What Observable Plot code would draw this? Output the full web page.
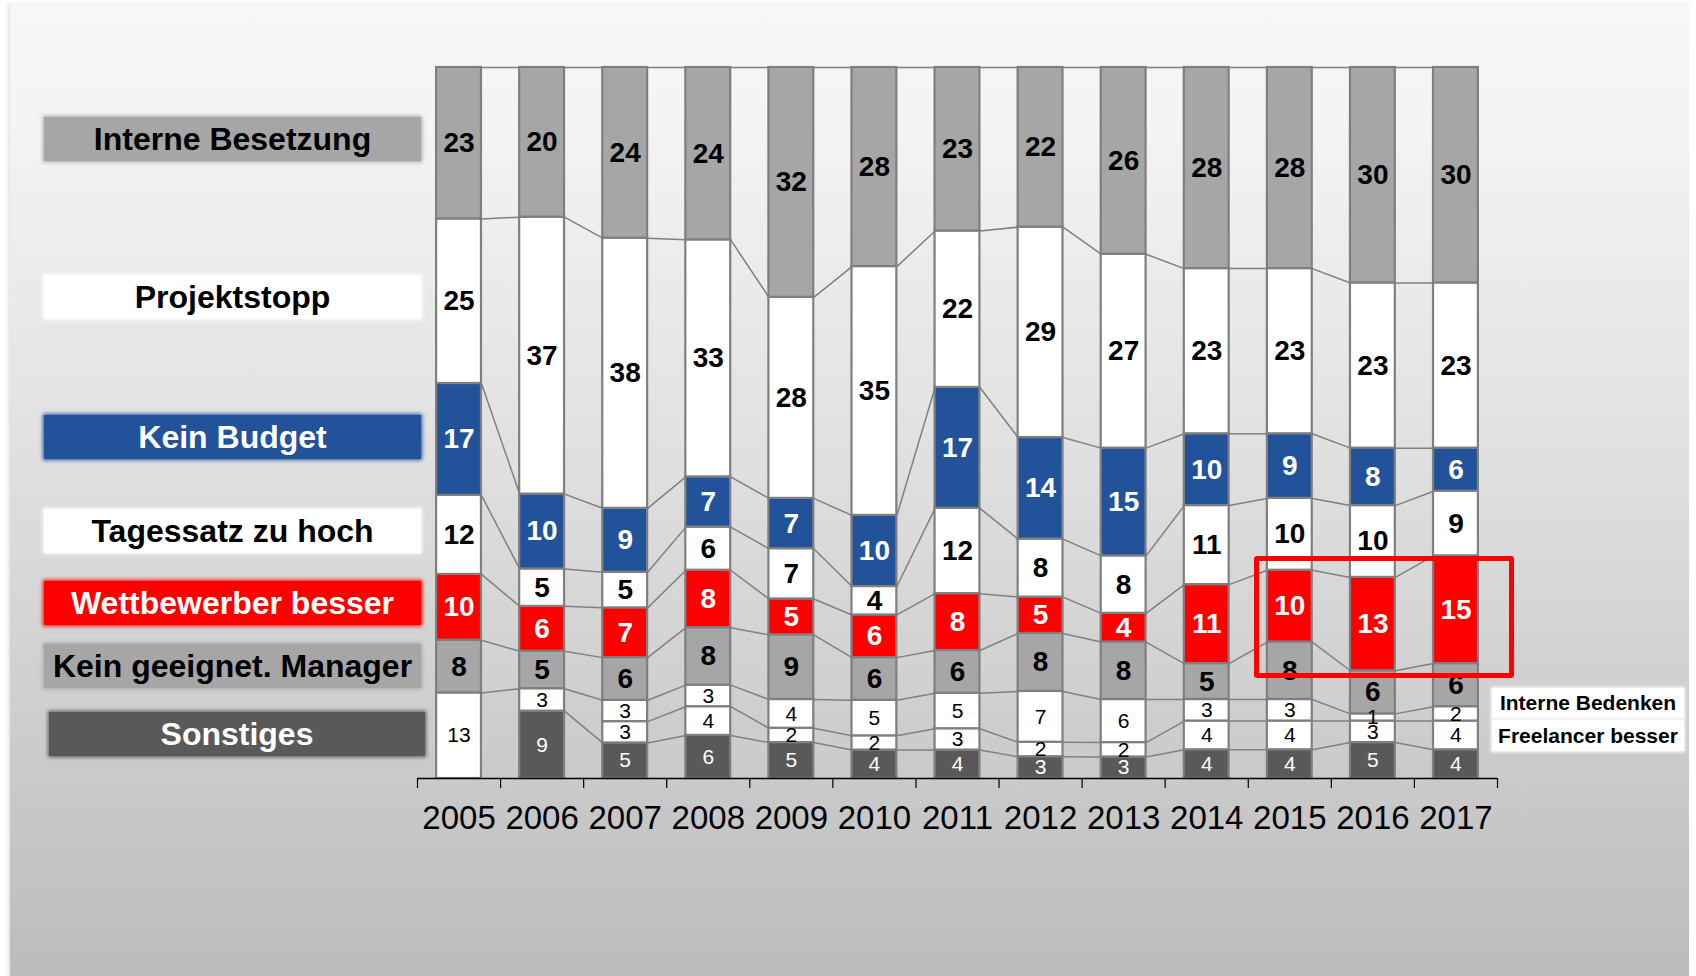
<!DOCTYPE html>
<html>
<head>
<meta charset="utf-8">
<script src="https://cdn.jsdelivr.net/npm/d3@7"></script>
<script src="https://cdn.jsdelivr.net/npm/@observablehq/plot@0.6"></script>
<style>
  html, body { margin: 0; padding: 0; background: #ffffff; overflow: hidden; }
  #page { position: relative; width: 1696px; height: 976px; font-family: 'Liberation Sans', Arial, sans-serif; }
  #panel { position: absolute; left: 10px; top: 4px; width: 1679px; height: 972px;
    background: linear-gradient(#f7f7f7 0%, #f4f4f4 12%, #e1e1e1 45%, #bcbcbc 100%);
    box-shadow: -2px 0 4px rgba(0,0,0,0.12); }
  #chart { position: absolute; left: 0; top: 0; }
  .lg { position: absolute; display: flex; align-items: center; justify-content: center;
    font-weight: bold; white-space: nowrap; }
  .big { font-size: 32px; height: 44px; }
  .small { font-size: 21px; }
  #hl { position: absolute; left: 1254px; top: 556px; width: 260px; height: 122px;
    border: 5px solid #ff0000; border-radius: 3px; box-sizing: border-box; }
</style>
</head>
<body>
<div id="page">
  <div id="panel"></div>
  <div id="chart"></div>
  <div id="legend"></div>
  <div id="hl"></div>
</div>
<script>
// ---- Data ----
const years = [2005, 2006, 2007, 2008, 2009, 2010, 2011, 2012, 2013, 2014, 2015, 2016, 2017];

// Stack order from bottom to top
const categories = ["Sonstiges", "Freelancer besser", "Interne Bedenken", "Kein geeignet. Manager",
  "Wettbewerber besser", "Tagessatz zu hoch", "Kein Budget", "Projektstopp", "Interne Besetzung"];

const sonstiges        = [null, 9, 5, 6, 5, 4, 4, 3, 3, 4, 4, 5, 4];
const freelancerBesser = [null, null, 3, 4, 2, 2, 3, 2, 2, 4, 4, 3, 4];
const interneBedenken  = [13, 3, 3, 3, 4, 5, 5, 7, 6, 3, 3, 1, 2];
const keinManager      = [8, 5, 6, 8, 9, 6, 6, 8, 8, 5, 8, 6, 6];
const wettbewerber     = [10, 6, 7, 8, 5, 6, 8, 5, 4, 11, 10, 13, 15];
const tagessatz        = [12, 5, 5, 6, 7, 4, 12, 8, 8, 11, 10, 10, 9];
const keinBudget       = [17, 10, 9, 7, 7, 10, 17, 14, 15, 10, 9, 8, 6];
const projektstopp     = [25, 37, 38, 33, 28, 35, 22, 29, 27, 23, 23, 23, 23];
const interneBesetzung = [23, 20, 24, 24, 32, 28, 23, 22, 26, 28, 28, 30, 30];

const seriesValues = [sonstiges, freelancerBesser, interneBedenken, keinManager,
  wettbewerber, tagessatz, keinBudget, projektstopp, interneBesetzung];

const fills      = ["#595959", "#ffffff", "#ffffff", "#a6a6a6", "#ff0000", "#ffffff", "#22529a", "#ffffff", "#a6a6a6"];
const textColors = ["#ffffff", "#000000", "#000000", "#000000", "#ffffff", "#000000", "#ffffff", "#000000", "#000000"];
const boldLabel  = [false, false, false, true, true, true, true, true, true];

// Legend (left) labels, top to bottom
const legendLeft = ["Interne Besetzung", "Projektstopp", "Kein Budget", "Tagessatz zu hoch",
  "Wettbewerber besser", "Kein geeignet. Manager", "Sonstiges"];
const legendRight = ["Interne Bedenken", "Freelancer besser"];

// ---- Build normalized stack ----
const half = 0.27;
const segments = [];
const tops = categories.map(() => []);
years.forEach((yr, i) => {
  const total = d3.sum(seriesValues, s => s[i] ?? 0);
  let cum = 0;
  seriesValues.forEach((s, c) => {
    const v = s[i];
    if (v == null) { tops[c].push(null); return; }
    const y1 = cum / total;
    cum += v;
    const y2 = cum / total;
    tops[c].push(y2);
    segments.push({year: yr, cat: categories[c], ci: c, value: v, y1, y2,
      fill: fills[c], tc: textColors[c], bold: boldLabel[c]});
  });
});

const links = [];
categories.forEach((cat, c) => {
  for (let i = 0; i < years.length - 1; i++) {
    const a = tops[c][i], b = tops[c][i + 1];
    if (a == null || b == null) continue;
    links.push({x1: years[i] + half, y1: a, x2: years[i + 1] - half, y2: b});
  }
});

const boundaries = d3.range(years.length + 1).map(i => years[0] - 0.5 + i);

const chart = Plot.plot({
  width: 1696,
  height: 976,
  marginTop: 67,
  marginBottom: 198,
  marginLeft: 417,
  marginRight: 199,
  x: {type: "linear", domain: [years[0] - 0.5, years[years.length - 1] + 0.5], axis: null},
  y: {domain: [0, 1], axis: null},
  style: {background: "transparent", fontFamily: "'Liberation Sans', Arial, sans-serif", overflow: "visible"},
  marks: [
    Plot.link(links, {x1: "x1", y1: "y1", x2: "x2", y2: "y2", stroke: "#808080", strokeWidth: 1.5}),
    Plot.rect(segments, {x1: d => d.year - half, x2: d => d.year + half, y1: "y1", y2: "y2",
      fill: "fill", stroke: "#7f7f7f", strokeWidth: 2.2}),
    Plot.text(segments.filter(d => d.bold), {x: "year", y: d => (d.y1 + d.y2) / 2, text: d => String(d.value),
      fill: "tc", fontSize: 28, fontWeight: "bold"}),
    Plot.text(segments.filter(d => !d.bold), {x: "year", y: d => (d.y1 + d.y2) / 2, text: d => String(d.value),
      fill: "tc", fontSize: 21}),
    Plot.ruleY([0], {stroke: "#000000", strokeWidth: 1.5}),
    Plot.axisX(boundaries, {tickSize: 10, tickFormat: () => "", stroke: "#000000", strokeWidth: 1.2}),
    Plot.text(years, {x: d => d, frameAnchor: "bottom", dy: 50, text: d => String(d), fontSize: 33, fill: "#000000"})
  ]
});
document.getElementById("chart").appendChild(chart);

// ---- Legend boxes ----
const legendPos = [
  {top: 117, left: 44, w: 377},
  {top: 275, left: 44, w: 377},
  {top: 415, left: 44, w: 377},
  {top: 509, left: 44, w: 377},
  {top: 581, left: 44, w: 377},
  {top: 644, left: 44, w: 377},
  {top: 712, left: 49, w: 376}
];
const legendColors = legendLeft.map(name => fills[categories.indexOf(name)]);
const legendText = legendLeft.map(name => textColors[categories.indexOf(name)]);
const lg = document.getElementById("legend");
legendLeft.forEach((name, k) => {
  const d = document.createElement("div");
  d.className = "lg big";
  const p = legendPos[k];
  d.style.left = p.left + "px";
  d.style.top = p.top + "px";
  d.style.width = p.w + "px";
  d.style.background = legendColors[k];
  d.style.color = legendText[k];
  d.style.boxShadow = "0 0 4px 1px " + legendColors[k];
  d.textContent = name;
  lg.appendChild(d);
});
const rightPos = [{top: 688, h: 30}, {top: 720, h: 31}];
legendRight.forEach((name, k) => {
  const d = document.createElement("div");
  d.className = "lg small";
  d.style.left = "1492px";
  d.style.top = rightPos[k].top + "px";
  d.style.width = "192px";
  d.style.height = rightPos[k].h + "px";
  d.style.background = "#ffffff";
  d.style.color = "#000000";
  d.style.boxShadow = "0 0 3px 1px #ffffff";
  d.textContent = name;
  lg.appendChild(d);
});
</script>
</body>
</html>
